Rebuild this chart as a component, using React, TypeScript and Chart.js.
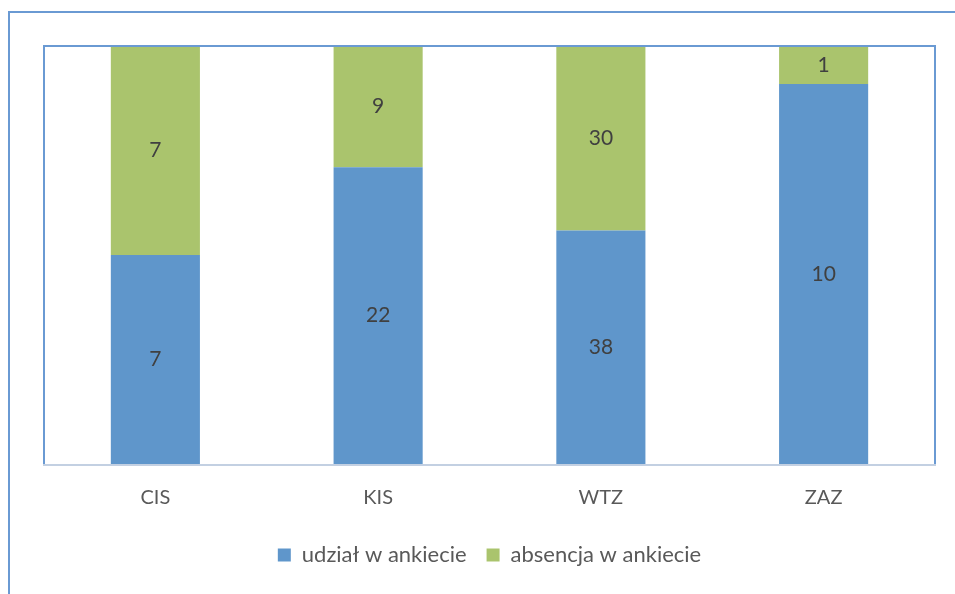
import React, { useEffect, useRef } from "react";
import { Chart, registerables } from "chart.js";

Chart.register(...registerables);

const categories = ["CIS", "KIS", "WTZ", "ZAZ"];
const seriesNames = ["udział w ankiecie", "absencja w ankiecie"];
const participation = [7, 22, 38, 10];
const absence = [7, 9, 30, 1];
const seriesColors = ["#5F96CB", "#AAC46D"];

const FONT = "Lato, 'Open Sans', sans-serif";

export default function App() {
  const ref = useRef<HTMLCanvasElement>(null);
  useEffect(() => {
    const totals = participation.map((v, i) => v + absence[i]);
    const raw = [participation, absence];
    const pct = raw.map((arr) => arr.map((v, i) => (v / totals[i]) * 100));

    const framePlugin = {
      id: "frame",
      afterDraw(chart: any) {
        const ctx = chart.ctx;
        const a = chart.chartArea;
        ctx.save();
        // outer border
        ctx.strokeStyle = "#6A9AD3";
        ctx.lineWidth = 2;
        ctx.strokeRect(9, 12, 1000, 700);
        // plot area border (top, left, right)
        ctx.beginPath();
        ctx.moveTo(a.left, a.bottom);
        ctx.lineTo(a.left, a.top);
        ctx.lineTo(a.right, a.top);
        ctx.lineTo(a.right, a.bottom);
        ctx.stroke();
        // bottom axis line
        ctx.strokeStyle = "#C3D0E2";
        ctx.lineWidth = 2;
        ctx.beginPath();
        ctx.moveTo(a.left - 1, a.bottom + 1);
        ctx.lineTo(a.right + 1, a.bottom + 1);
        ctx.stroke();
        // data labels
        ctx.fillStyle = "#404040";
        ctx.font = "21px " + FONT;
        ctx.textAlign = "center";
        ctx.textBaseline = "middle";
        chart.data.datasets.forEach((ds: any, di: number) => {
          const meta = chart.getDatasetMeta(di);
          meta.data.forEach((bar: any, i: number) => {
            const y = (bar.y + bar.base) / 2;
            ctx.fillText(String(raw[di][i]), bar.x, y);
          });
        });
        ctx.restore();
      },
    };

    const chart = new Chart(ref.current!, {
      type: "bar",
      data: {
        labels: categories,
        datasets: seriesNames.map((name, i) => ({
          label: name,
          data: pct[i],
          backgroundColor: seriesColors[i],
          borderWidth: 0,
          barPercentage: 0.4,
          categoryPercentage: 1,
        })),
      },
      options: {
        animation: false,
        responsive: false,
        layout: { padding: { left: 44, right: 20, top: 46, bottom: 18 } },
        plugins: {
          legend: {
            position: "bottom",
            labels: {
              boxWidth: 13,
              boxHeight: 13,
              padding: 20,
              color: "#595959",
              font: { family: FONT, size: 22 },
            },
          },
          tooltip: { enabled: false },
        },
        scales: {
          x: {
            stacked: true,
            grid: { display: false },
            border: { display: false },
            ticks: { color: "#595959", font: { family: FONT, size: 20 }, padding: 14 },
          },
          y: {
            stacked: true,
            display: false,
            min: 0,
            max: 100,
          },
        },
      },
      plugins: [framePlugin],
    });
    return () => chart.destroy();
  }, []);

  return (
    <div style={{ position: "fixed", left: 0, top: 0, width: 955, height: 594, background: "#fff" }}>
      <canvas ref={ref} width={955} height={594} />
    </div>
  );
}
